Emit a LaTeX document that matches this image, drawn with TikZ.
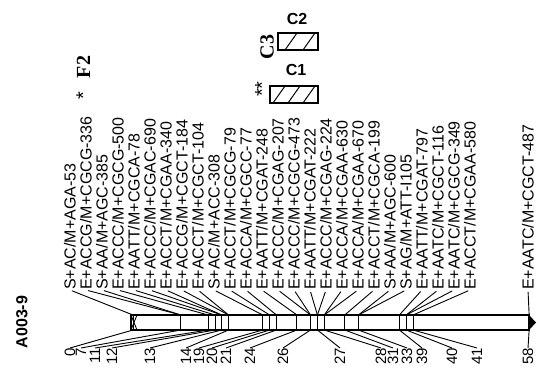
\documentclass[tikz,border=0pt]{standalone}
\usepackage{fontspec}
\setmainfont{Liberation Sans}
\newfontfamily\serifbf{Liberation Serif}
\usetikzlibrary{positioning}

\tikzset{
  marker/.style={rotate=90, anchor=west, inner sep=0pt, font=\fontsize{16}{16}\selectfont},
  cmlabel/.style={rotate=90, anchor=east, inner sep=0pt, font=\fontsize{15}{15}\selectfont},
  link/.style={line width=0.9pt},
  qtlbox/.style={draw, line width=1.8pt},
  hatch/.style={line width=1pt}
}

\begin{document}
\begin{tikzpicture}[x=1pt, y=-1pt]

    % =================================================================
    % LAYER 0: THE PAGE
    % =================================================================
    \useasboundingbox (0,0) rectangle (538,374);

    % =================================================================
    % LAYER 1: THE CHROMOSOME BAR AND ITS LOCI
    % =================================================================
    \draw[line width=1.2pt] (131,315) rectangle (529,330);
    \foreach \c in {0,7,11,12,13,14,19,20,21,24,26,27,28,31,33,39,40,41,58} {
        \coordinate (t\c) at ({133+6.83*\c},315);
        \coordinate (b\c) at ({133+6.83*\c},330);
        \draw[link] (t\c) -- (b\c);
    }
    \draw[link] (131,315) -- (137,330) (131,330) -- (137,315);
    \fill (529,315) -- (536,322.5) -- (529,330) -- cycle;

    \node[rotate=90, font=\bfseries\fontsize{16}{16}\selectfont] (title) at (22,322) {A003-9};

    % =================================================================
    % LAYER 2: THE POSITIONS (cM)
    % =================================================================
    \foreach \c/\x in {0/70,7/81,11/95,12/112,13/150,14/186,19/199,20/212,21/226,24/250,
                       26/283,27/340,28/381,31/393,33/407,39/422,40/452,41/477,58/528} {
        \node[cmlabel] (n\c) at (\x,348) {\c};
        \draw[link] (b\c) -- (n\c.east);
    }

    % =================================================================
    % LAYER 3: THE MARKERS
    % =================================================================
    \foreach \i/\x/\c/\txt in {1/70/0/{S+AC/M+AGA-53}, 2/86/7/{E+ACCG/M+CGCG-336},
        3/102/7/{S+AA/M+AGC-385}, 4/118/11/{E+ACCC/M+CGCG-500},
        5/134/12/{E+AATT/M+CGCA-78}, 6/150/13/{E+ACCC/M+CGAC-690},
        7/166/13/{E+ACCT/M+CGAA-340}, 8/182/14/{E+ACCG/M+CGCT-184},
        9/198/14/{E+ACCT/M+CGCT-104}, 10/214/19/{S+AC/M+ACC-308},
        11/230/20/{E+ACCT/M+CGCG-79}, 12/246/21/{E+ACCA/M+CGCC-77},
        13/262/24/{E+AATT/M+CGAT-248}, 14/278/26/{E+ACCC/M+CGAG-207},
        15/294/26/{E+ACCC/M+CGCG-473}, 16/310/27/{E+AATT/M+CGAT-222},
        17/326/27/{E+ACCC/M+CGAG-224}, 18/342/28/{E+ACCA/M+CGAA-630},
        19/358/28/{E+ACCA/M+CGAA-670}, 20/374/31/{E+ACCT/M+CGCA-199},
        21/390/33/{S+AA/M+AGC-600}, 22/406/33/{S+AG/M+ATT-I105},
        23/422/39/{E+AATT/M+CGAT-797}, 24/438/40/{E+AATC/M+CGCT-116},
        25/454/40/{E+AATC/M+CGCG-349}, 26/470/41/{E+ACCT/M+CGAA-580},
        27/528/58/{E+AATC/M+CGCT-487}} {
        \node[marker] (m\i) at (\x,290) {\txt};
        \draw[link, shorten <=2pt] (m\i.west) -- (t\c);
    }

    \node[rotate=90, anchor=base west, inner sep=0pt] (f2) at (90,100)
        {\fontsize{20}{20}\selectfont *\hspace{14pt}\serifbf\bfseries F2};

    % =================================================================
    % LAYER 4: THE QTL BOXES
    % =================================================================
    \draw[qtlbox] (278,33) rectangle (318,50);
    \draw[hatch] (285,50) -- (297,33) (303,50) -- (315,33);
    \node[font=\bfseries\fontsize{16}{16}\selectfont] (c2) at (297,19) {C2};
    \node[rotate=90, font=\serifbf\bfseries\fontsize{20}{20}\selectfont] (c3) at (267,47) {C3};

    \draw[qtlbox] (270,86) rectangle (318,103);
    \draw[hatch] (273,103) -- (285,86) (288,103) -- (300,86) (303,103) -- (315,86);
    \node[font=\bfseries\fontsize{16}{16}\selectfont] (c1) at (296,70) {C1};
    \node[rotate=90, font=\fontsize{20}{20}\selectfont] (stars) at (262,89) {**};

\end{tikzpicture}
\end{document}
